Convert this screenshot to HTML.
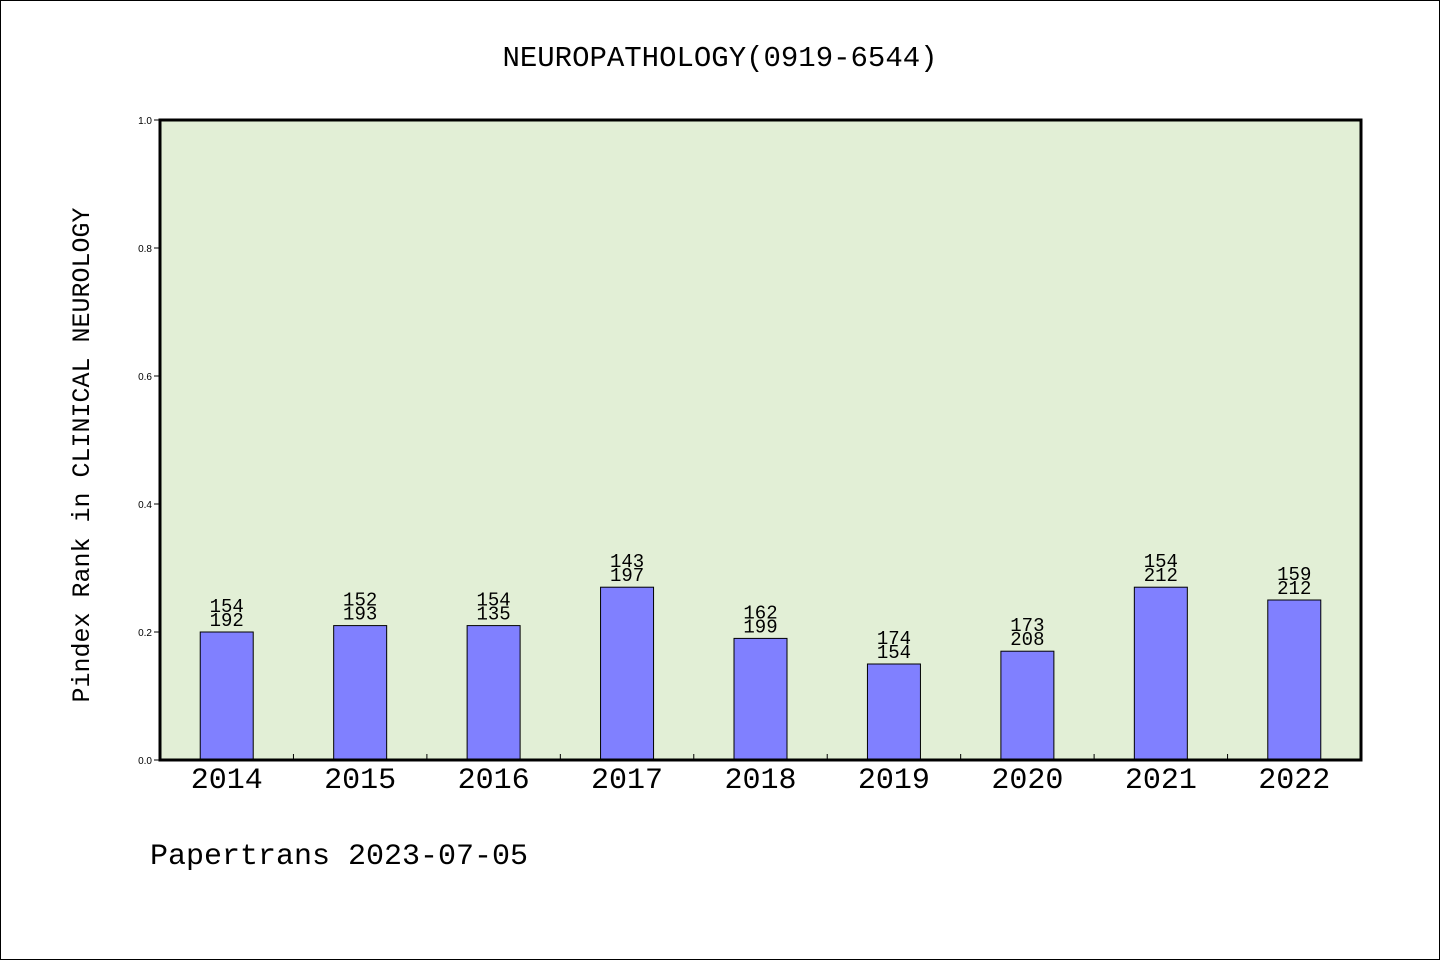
<!DOCTYPE html>
<html><head><meta charset="utf-8"><style>
html,body{margin:0;padding:0;background:#fff}
svg{display:block}
text{font-family:"WenQuanYi Zen Hei","Liberation Mono",monospace}
</style></head><body>
<svg id="chart" width="1440" height="960">
<rect x="0.5" y="0.5" width="1439" height="959" fill="#fff" stroke="#000"/>
<text x="720" y="66" font-size="29" text-anchor="middle">NEUROPATHOLOGY(0919-6544)</text>
<rect x="160" y="120" width="1201" height="640" fill="#e2efd6"/>
<g id="yaxis"></g>
<g id="bars"></g>
<g id="xaxis"></g>
<rect x="160" y="120" width="1201" height="640" fill="none" stroke="#000" stroke-width="3"/>
<text transform="translate(89,455) rotate(-90)" font-size="25" text-anchor="middle">Pindex Rank in CLINICAL NEUROLOGY</text>
<text x="150" y="864" font-size="30">Papertrans 2023-07-05</text>
</svg>
<script>
const categories=["2014","2015","2016","2017","2018","2019","2020","2021","2022"];
const values=[0.20,0.21,0.21,0.27,0.19,0.15,0.17,0.27,0.25];
const topLabels=["154","152","154","143","162","174","173","154","159"];
const bottomLabels=["192","193","135","197","199","154","208","212","212"];
const yTicks=[0,0.2,0.4,0.6,0.8,1.0];
const yTickLabels=["0.0","0.2","0.4","0.6","0.8","1.0"];
const NS="http://www.w3.org/2000/svg";
const X0=160,W=1201,Y0=760,H=640;
const bw=W/categories.length;
const y=v=>Y0-v*H;
const xc=i=>X0+bw*(i+0.5);
function mk(t,a,p){const e=document.createElementNS(NS,t);for(const k in a)e.setAttribute(k,a[k]);p.appendChild(e);return e;}
const ya=document.getElementById('yaxis'),ba=document.getElementById('bars'),xa=document.getElementById('xaxis');
yTicks.forEach((v,i)=>{
 const l=mk('line',{x1:X0-6,x2:X0,y1:y(v),y2:y(v),stroke:'#000'},ya);
 
 
 const t=mk('text',{x:X0-8,y:y(v)+4,'font-size':10,'text-anchor':'end',style:'font-family:"Liberation Sans",sans-serif'},ya);
 t.textContent=yTickLabels[i];
 
 
});
categories.forEach((c,i)=>{
 const r=mk('rect',{x:xc(i)-26.5,y:y(values[i]),width:53,height:values[i]*H,fill:'#8080ff',stroke:'#000','stroke-width':1},ba);
 
 
 const t1=mk('text',{x:xc(i),y:y(values[i])-20,'font-size':19,'text-anchor':'middle'},ba);
 t1.textContent=topLabels[i];
 
 
 const t2=mk('text',{x:xc(i),y:y(values[i])-6,'font-size':19,'text-anchor':'middle'},ba);
 t2.textContent=bottomLabels[i];
 
 
 const xl=mk('text',{x:xc(i),y:788,'font-size':30,'text-anchor':'middle'},xa);
 xl.textContent=c;
 
 
 if(i>0){const tk=mk('line',{x1:X0+bw*i,x2:X0+bw*i,y1:Y0-6,y2:Y0,stroke:'#000'},xa);
 
 }
});
</script>
</body></html>
